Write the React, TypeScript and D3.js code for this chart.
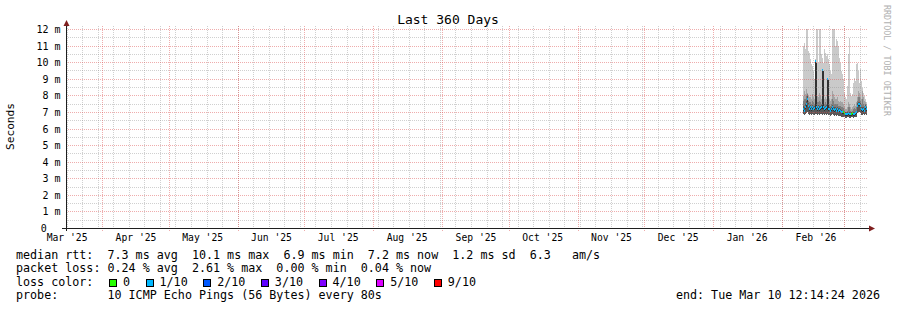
import React from "react";
import * as d3 from "d3";

// ---------- data ----------
const END_TIME = new Date(2026, 2, 10, 12, 14, 24);
const SPAN_DAYS = 360;
const DATA_START = new Date(2026, 1, 10, 0, 0, 0);
const STEP_SECONDS = 38880;

const yTickValues = [0, 1, 2, 3, 4, 5, 6, 7, 8, 9, 10, 11, 12];
const yTickLabels = ["0", "1 m", "2 m", "3 m", "4 m", "5 m", "6 m", "7 m", "8 m", "9 m", "10 m", "11 m", "12 m"];

// smoke layers (ms), lightest outer layer top
const smokeMax = [11.0, 11.2, 10.8, 12.05, 12.05, 10.7, 10.6, 10.2, 9.9, 9.8, 9.5, 9.0, 10.2, 12.05, 12.05, 10.0, 12.05, 12.05, 10.5, 10.3, 10.0, 10.8, 10.6, 10.4, 10.5, 10.2, 9.9, 9.5, 9.3, 12.05, 12.05, 12.05, 11.0, 11.4, 11.3, 11.0, 10.3, 10.0, 9.5, 9.3, 9.0, 8.2, 7.9, 7.8, 8.6, 10.5, 11.5, 8.2, 8.0, 8.1, 8.8, 9.1, 8.9, 9.9, 10.0, 9.5, 8.8, 9.6, 8.9, 8.5, 8.2, 8.0, 7.8, 7.6];
const smoke2 = [8.0, 8.3, 8.1, 8.4, 8.2, 8.0, 7.9, 7.9, 7.8, 8.1, 7.9, 7.8, 8.5, 8.6, 8.0, 7.9, 8.2, 8.0, 7.8, 7.9, 8.1, 7.8, 7.9, 7.8, 8.0, 7.8, 7.8, 7.7, 7.8, 8.3, 8.1, 7.9, 7.8, 7.8, 7.9, 7.7, 7.6, 7.7, 7.6, 7.6, 7.5, 7.3, 7.2, 7.2, 7.3, 7.6, 7.5, 7.3, 7.2, 7.3, 7.4, 7.5, 7.4, 7.6, 7.9, 8.3, 8.2, 7.9, 7.8, 8.3, 7.9, 7.7, 7.6, 7.5];
const smoke3 = [7.7, 7.8, 7.8, 8.0, 8.1, 7.7, 7.6, 7.6, 7.5, 7.7, 7.6, 7.5, 7.9, 7.8, 7.6, 7.6, 7.7, 7.6, 7.5, 7.6, 7.7, 7.5, 7.6, 7.5, 7.6, 7.5, 7.5, 7.4, 7.5, 7.8, 7.7, 7.5, 7.5, 7.5, 7.5, 7.4, 7.4, 7.4, 7.3, 7.3, 7.25, 7.1, 7.05, 7.05, 7.1, 7.3, 7.3, 7.1, 7.05, 7.1, 7.2, 7.25, 7.2, 7.3, 7.7, 7.9, 7.9, 7.7, 7.5, 7.8, 7.5, 7.4, 7.5, 7.4];
const smoke4 = [7.4, 7.35, 7.5, 7.7, 8.0, 7.55, 7.4, 7.45, 7.35, 7.45, 7.4, 7.4, 7.6, 7.5, 7.35, 7.45, 7.4, 7.4, 7.45, 7.5, 7.45, 7.35, 7.4, 7.45, 7.4, 7.35, 7.35, 7.25, 7.35, 7.45, 7.35, 7.3, 7.35, 7.25, 7.3, 7.25, 7.25, 7.2, 7.15, 7.1, 7.1, 7.05, 7.0, 7.0, 7.0, 7.05, 7.0, 7.0, 7.0, 7.05, 7.0, 7.0, 7.05, 7.1, 7.55, 7.65, 7.65, 7.55, 7.35, 7.3, 7.35, 7.25, 7.45, 7.35];
const smokeCoreHi = [7.25, 7.15, 7.35, 7.55, 7.85, 7.45, 7.25, 7.35, 7.25, 7.35, 7.25, 7.3, 10.1, 10.0, 7.25, 7.35, 7.25, 7.3, 7.35, 9.55, 9.5, 7.25, 7.3, 7.35, 9.0, 8.95, 7.25, 7.15, 7.25, 7.35, 7.25, 7.2, 7.25, 7.15, 7.25, 7.15, 7.2, 7.15, 7.1, 7.05, 7.05, 7.0, 6.95, 6.95, 6.95, 7.0, 6.95, 6.95, 6.95, 7.0, 6.95, 6.95, 7.0, 7.05, 7.45, 7.55, 7.55, 7.45, 7.25, 7.2, 7.25, 7.15, 7.35, 7.25];
const smokeCoreLo = [7.1, 7.0, 7.2, 7.35, 7.6, 7.3, 7.1, 7.2, 7.1, 7.2, 7.1, 7.15, 7.2, 7.2, 7.1, 7.2, 7.1, 7.15, 7.2, 7.2, 7.2, 7.1, 7.15, 7.2, 7.15, 7.1, 7.1, 7.0, 7.1, 7.2, 7.1, 7.05, 7.1, 7.0, 7.1, 7.0, 7.05, 7.0, 6.95, 6.9, 6.9, 6.85, 6.8, 6.8, 6.8, 6.85, 6.8, 6.8, 6.8, 6.85, 6.8, 6.8, 6.85, 6.9, 7.3, 7.4, 7.4, 7.3, 7.1, 7.05, 7.1, 7.0, 7.2, 7.1];
const smokeMin = [6.9, 6.85, 6.9, 6.95, 7.0, 6.9, 6.85, 6.9, 6.85, 6.9, 6.85, 6.85, 6.9, 6.9, 6.85, 6.9, 6.85, 6.9, 6.9, 6.85, 6.9, 6.85, 6.9, 6.85, 6.9, 6.85, 6.85, 6.8, 6.85, 6.9, 6.85, 6.8, 6.85, 6.8, 6.85, 6.8, 6.8, 6.8, 6.75, 6.75, 6.7, 6.7, 6.65, 6.65, 6.7, 6.7, 6.65, 6.65, 6.7, 6.7, 6.65, 6.7, 6.7, 6.75, 6.95, 7.0, 7.0, 6.95, 6.85, 6.85, 6.9, 6.85, 6.9, 6.85];
const medianRtt = [7.2, 7.1, 7.3, 7.5, 7.8, 7.4, 7.2, 7.3, 7.2, 7.3, 7.2, 7.25, 10.1, 7.3, 7.2, 7.3, 7.2, 7.25, 7.3, 9.55, 7.3, 7.2, 7.25, 7.3, 9.0, 7.2, 7.2, 7.1, 7.2, 7.3, 7.2, 7.15, 7.2, 7.1, 7.2, 7.1, 7.15, 7.1, 7.05, 7.0, 7.0, 6.95, 6.9, 6.9, 6.9, 6.95, 6.9, 6.9, 6.9, 6.95, 6.9, 6.9, 6.95, 7.0, 7.4, 7.5, 7.5, 7.4, 7.2, 7.15, 7.2, 7.1, 7.3, 7.2];
const lossIndex = [1, 1, 1, 1, 1, 1, 1, 1, 1, 1, 1, 1, 1, 1, 1, 1, 1, 1, 1, 1, 1, 1, 1, 1, 1, 1, 1, 1, 1, 1, 1, 1, 1, 1, 1, 1, 1, 1, 1, 1, 0, 0, 1, 1, 1, 1, 1, 1, 0, 0, 1, 1, 1, 1, 1, 1, 1, 1, 1, 1, 1, 1, 1, 1];

const lossLabels = ["0", "1/10", "2/10", "3/10", "4/10", "5/10", "9/10"];
const lossColors = ["#26ff00", "#00b8ff", "#0059ff", "#5e00ff", "#7e00ff", "#dd00ff", "#ff0000"];
const smokeColors = ["#cacaca", "#a4a4a4", "#7e7e7e", "#585858", "#323232"];

const titleText = "Last 360 Days";
const yAxisTitle = "Seconds";
const watermark = "RRDTOOL / TOBI OETIKER";
const statsRtt = "median rtt:  7.3 ms avg  10.1 ms max  6.9 ms min  7.2 ms now  1.2 ms sd  6.3   am/s";
const statsLoss = "packet loss: 0.24 % avg  2.61 % max  0.00 % min  0.04 % now";
const lossColorLabel = "loss color:";
const probeText = "probe:       10 ICMP Echo Pings (56 Bytes) every 80s";
const endText = "end: Tue Mar 10 12:14:24 2026";

const MONO = "'DejaVu Sans Mono', monospace";

export default function App() {
  const W = 897;
  const H = 310;
  const left = 66;
  const right = 866;
  const gridRight = 868;
  const plotTop = 26;
  const START = new Date(END_TIME.getTime() - SPAN_DAYS * 86400000);
  const x = d3.scaleTime().domain([START, END_TIME]).range([left, right]);
  const y = d3.scaleLinear().domain([0, 12]).range([228.5, 29.5]);
  const crisp = (v: number) => Math.floor(v) + 0.5;

  const months = d3.timeMonth.range(d3.timeMonth.ceil(START), END_TIME);
  const weeks = d3.timeSunday.range(d3.timeSunday.ceil(START), END_TIME);
  const monthLabels = d3.timeMonth
    .range(d3.timeMonth.floor(START), END_TIME)
    .map((m) => ({ m, t: d3.timeDay.offset(m, 15) }))
    .filter((d) => d.t >= START && d.t <= END_TIME);
  const fmt = d3.timeFormat("%b '%y");
  const minorY = d3.range(0.5, 12, 1);

  const stepMs = STEP_SECONDS * 1000;
  const cols = medianRtt.map((med, i) => {
    const t0 = new Date(DATA_START.getTime() + i * stepMs);
    const t1 = new Date(t0.getTime() + stepMs);
    return { i, xa: x(t0), xb: Math.min(x(t1), right + 1), med };
  });

  const layers = [
    { lo: smokeMin, hi: smokeMax, c: smokeColors[0] },
    { lo: smokeMin, hi: smoke2, c: smokeColors[1] },
    { lo: smokeMin, hi: smoke3, c: smokeColors[2] },
    { lo: smokeMin, hi: smoke4, c: smokeColors[3] },
    { lo: smokeCoreLo, hi: smokeCoreHi, c: smokeColors[4] },
  ];

  const charW = 7.04;
  const legendFont = 11.7;
  const rowY = [258.5, 272, 285.7, 299.3];

  // loss legend layout
  let bx = 109;
  const lossItems = lossLabels.map((lab, k) => {
    const item = { lab, c: lossColors[k], x: bx };
    bx += 14 + lab.length * charW + 15.5;
    return item;
  });

  const gridGray = { stroke: "#8f8f8f", strokeOpacity: 0.42, strokeDasharray: "1,1" };
  const gridRed = { stroke: "#de5050", strokeOpacity: 0.47, strokeDasharray: "1,1" };

  return (
    <svg width={W} height={H} style={{ position: "absolute", left: 0, top: 0, background: "#fff" }}
      xmlns="http://www.w3.org/2000/svg">
      <defs>
        <clipPath id="plotClip">
          <rect x={left} y={plotTop} width={right - left + 1} height={229 - plotTop} />
        </clipPath>
      </defs>
      <rect x={0} y={0} width={W} height={H} fill="#fff" />

      {/* smoke */}
      <g clipPath="url(#plotClip)" shapeRendering="crispEdges">
        {layers.map((L, li) => (
          <g key={li} fill={L.c}>
            {cols.map((c) => {
              const ya = y(Math.max(L.lo[c.i], L.hi[c.i]));
              const yb = y(Math.min(L.lo[c.i], L.hi[c.i]));
              return <rect key={c.i} x={c.xa} y={ya} width={c.xb - c.xa} height={Math.max(1, yb - ya)} />;
            })}
          </g>
        ))}
        {cols.map((c) => (
          <rect key={"m" + c.i} x={c.xa} y={y(c.med) - 1} width={c.xb - c.xa} height={2}
            fill={lossColors[lossIndex[c.i]]} />
        ))}
      </g>

      {/* grid */}
      <g strokeWidth={1} shapeRendering="crispEdges" fill="none">
        {minorY.map((v) => (
          <line key={"hy" + v} x1={left} x2={gridRight} y1={crisp(y(v))} y2={crisp(y(v))} {...gridGray} />
        ))}
        {weeks.map((w) => (
          <line key={"wx" + w.getTime()} x1={crisp(x(w))} x2={crisp(x(w))} y1={plotTop} y2={229} {...gridGray} />
        ))}
        {yTickValues.filter((v) => v > 0).map((v) => (
          <line key={"my" + v} x1={left} x2={gridRight} y1={crisp(y(v))} y2={crisp(y(v))} {...gridRed} />
        ))}
        {months.map((m) => (
          <line key={"mx" + m.getTime()} x1={crisp(x(m))} x2={crisp(x(m))} y1={plotTop} y2={231} {...gridRed} />
        ))}
      </g>

      {/* axes */}
      <g shapeRendering="crispEdges">
        <line x1={62} x2={870} y1={228.5} y2={228.5} stroke="#1f1f1f" />
        <line x1={66.5} x2={66.5} y1={231} y2={24} stroke="#1f1f1f" />
      </g>
      <path d="M63.5,26 L69.5,26 L66.5,20 Z" fill="#7f1f1f" />
      <path d="M869,225.5 L869,231.5 L875,228.5 Z" fill="#7f1f1f" />

      {/* y labels */}
      <g fontFamily={MONO} fontSize={10} fill="#000" textAnchor="end">
        {yTickValues.map((v, k) => (
          <text key={v} x={v === 0 ? 46.8 : 60.5} y={y(v) + 3.5}>{yTickLabels[k]}</text>
        ))}
      </g>
      {/* x labels */}
      <g fontFamily={MONO} fontSize={9.7} fill="#000" textAnchor="middle" style={{ whiteSpace: "pre" }}>
        {monthLabels.map((d) => (
          <text key={d.m.getTime()} x={x(d.t)} y={241} xmlSpace="preserve">{fmt(d.m)}</text>
        ))}
      </g>

      {/* title */}
      <text x={448} y={24} textAnchor="middle" fontFamily={MONO} fontSize={13} fill="#000">{titleText}</text>
      {/* y axis title */}
      <text transform="translate(14,126.5) rotate(-90)" textAnchor="middle" fontFamily={MONO} fontSize={11.2} fill="#000">{yAxisTitle}</text>
      {/* watermark */}
      <text transform="translate(884,5) rotate(90)" textAnchor="start" fontFamily={MONO} fontSize={8.4} fill="#b0b0b0">{watermark}</text>

      {/* legend */}
      <g fontFamily={MONO} fontSize={legendFont} fill="#000" style={{ whiteSpace: "pre" }}>
        <text x={16} y={rowY[0]} xmlSpace="preserve">{statsRtt}</text>
        <text x={16} y={rowY[1]} xmlSpace="preserve">{statsLoss}</text>
        <text x={16} y={rowY[2]} xmlSpace="preserve">{lossColorLabel}</text>
        {lossItems.map((it) => (
          <g key={it.lab}>
            <rect x={it.x + 0.5} y={279.5} width={7} height={7} fill={it.c} stroke="#000" strokeWidth={1} shapeRendering="crispEdges" />
            <text x={it.x + 14} y={rowY[2]} xmlSpace="preserve">{it.lab}</text>
          </g>
        ))}
        <text x={16} y={rowY[3]} xmlSpace="preserve">{probeText}</text>
        <text x={880} y={rowY[3]} textAnchor="end" xmlSpace="preserve">{endText}</text>
      </g>
    </svg>
  );
}
